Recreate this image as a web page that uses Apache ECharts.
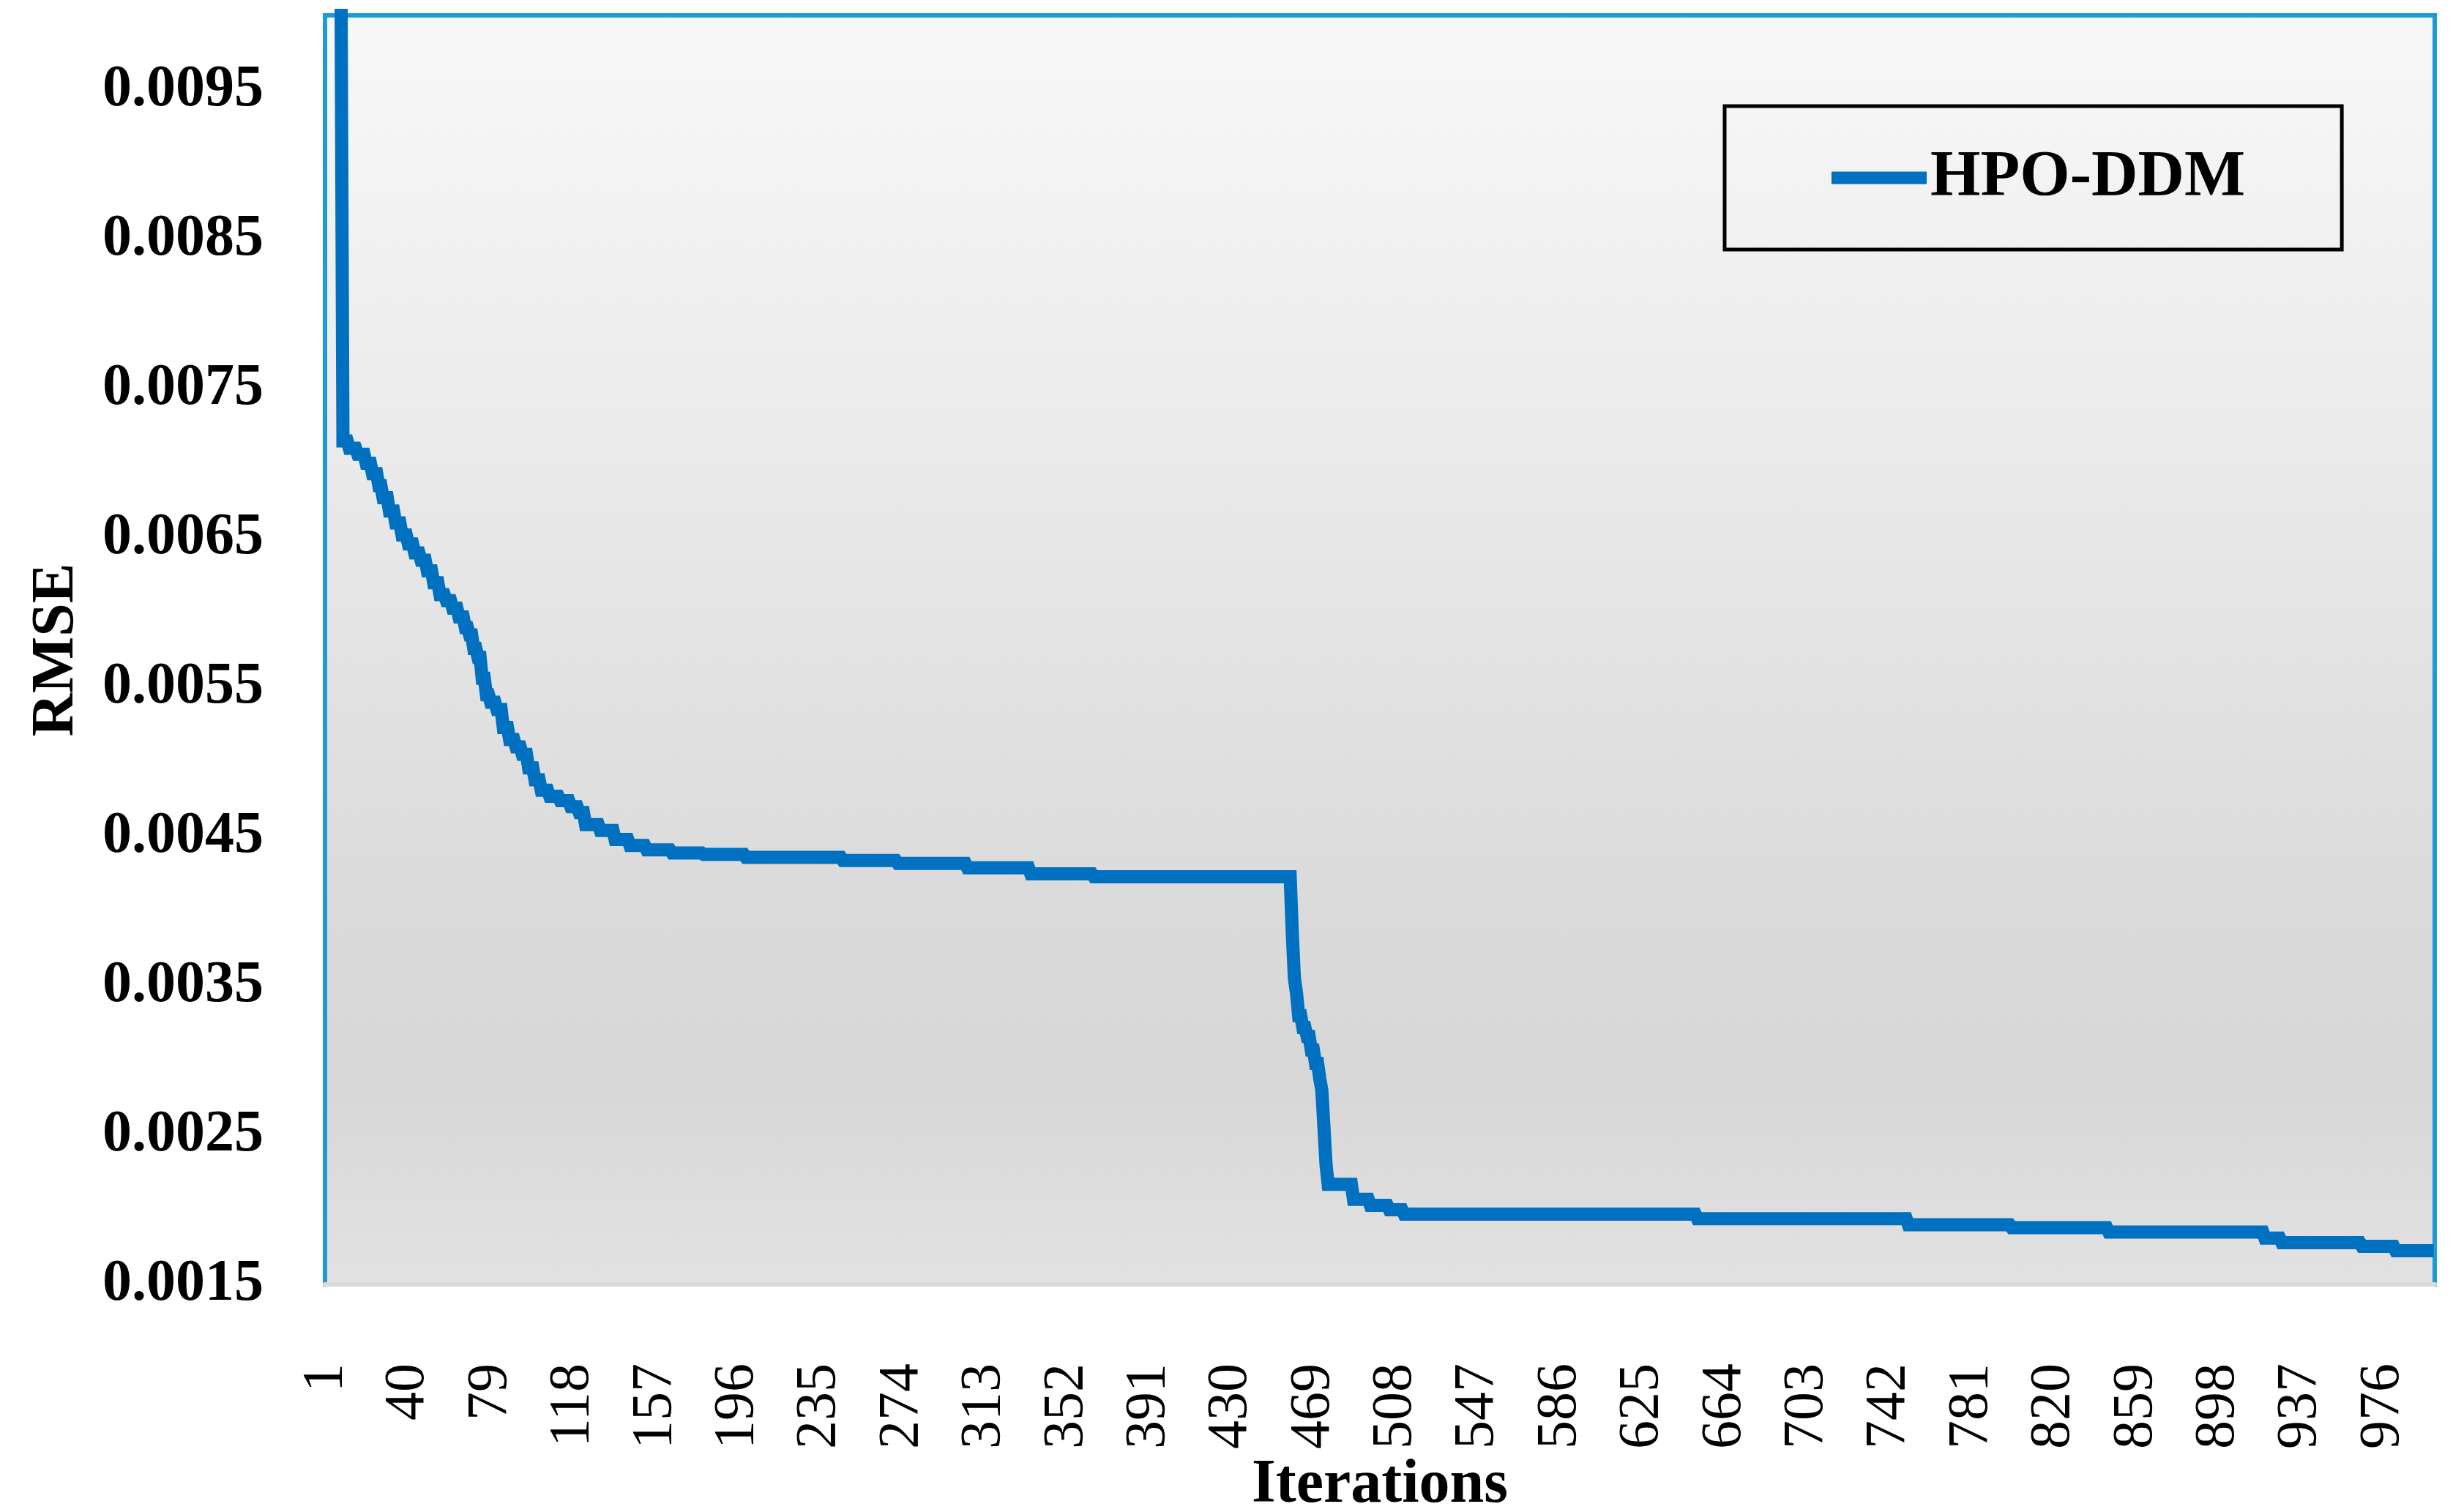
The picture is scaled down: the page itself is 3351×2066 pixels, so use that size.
<!DOCTYPE html>
<html>
<head>
<meta charset="utf-8">
<script src="https://cdn.jsdelivr.net/npm/echarts@6/dist/echarts.min.js"></script>
<style>
html,body{margin:0;padding:0;background:#fff;}
#chart{width:3351px;height:2066px;}
</style>
</head>
<body>
<div id="chart"></div>
<script>
// ---- data ----
const seriesName = 'HPO-DDM';
const iterationCount = 1000;
// RMSE is a best-so-far (step) curve: each value holds from its start iteration until the next one
const stepStartIters = [1, 4, 6, 8, 9, 12, 16, 20, 23, 26, 28, 31, 34, 37, 40, 43, 46, 49, 52, 55, 58, 61, 64, 67, 69, 71, 73, 75, 77, 79, 82, 85, 88, 91, 94, 97, 100, 103, 107, 112, 117, 121, 124, 131, 138, 145, 153, 165, 180, 200, 246, 272, 305, 335, 365, 459, 460, 461, 462, 464, 466, 468, 470, 472, 473, 474, 475, 476, 488, 496, 505, 512, 651, 751, 800, 846, 920, 928, 966, 982];
const stepValues = [0.0185, 0.0140, 0.0115, 0.0105, 0.00715, 0.00710, 0.00706, 0.00700, 0.00693, 0.00685, 0.00677, 0.00668, 0.00660, 0.00652, 0.00646, 0.00640, 0.00635, 0.00628, 0.00620, 0.00612, 0.00608, 0.00603, 0.00597, 0.00590, 0.00585, 0.00576, 0.00570, 0.00556, 0.00545, 0.00540, 0.00535, 0.00523, 0.00515, 0.00510, 0.00505, 0.00496, 0.00488, 0.00481, 0.00477, 0.00474, 0.00470, 0.00466, 0.00458, 0.00454, 0.00448, 0.00444, 0.00441, 0.00439, 0.00438, 0.00436, 0.00434, 0.00432, 0.00429, 0.00425, 0.00423, 0.00385, 0.00355, 0.00345, 0.00330, 0.00322, 0.00316, 0.00307, 0.00298, 0.00288, 0.00280, 0.00255, 0.00230, 0.00217, 0.00207, 0.00203, 0.00200, 0.00197, 0.00194, 0.00190, 0.00188, 0.00185, 0.00181, 0.00178, 0.001755, 0.001725];
const xTickLabels = ['1','40','79','118','157','196','235','274','313','352','391','430','469','508','547','586','625','664','703','742','781','820','859','898','937','976'];
const yTickLabels = ['0.0015','0.0025','0.0035','0.0045','0.0055','0.0065','0.0075','0.0085','0.0095'];
const yMin = 0.0015, yMax = 0.01, yStep = 0.001;
const xAxisTitle = 'Iterations';
const yAxisTitle = 'RMSE';

// ---- build ----
const categories = [];
const rmse = [];
let s = 0;
for (let it = 1; it <= iterationCount; it++) {
  while (s + 1 < stepStartIters.length && stepStartIters[s + 1] <= it) s++;
  categories.push(String(it));
  rmse.push(stepValues[s]);
}

const FONT = '"Liberation Serif", "Times New Roman", serif';
const chart = echarts.init(document.getElementById('chart'), null, {renderer: 'canvas'});
chart.setOption({
  backgroundColor: '#ffffff',
  animation: false,
  grid: {
    left: 444, right: 25, top: 21, bottom: 311,
    containLabel: false,
    outerBoundsMode: 'none',
    show: true,
    borderColor: '#1E9AD6',
    borderWidth: 6,
    backgroundColor: new echarts.graphic.LinearGradient(0, 0, 0, 1, [
      {offset: 0, color: '#f8f8f8'},
      {offset: 0.3, color: '#ececec'},
      {offset: 0.68, color: '#dbdbdb'},
      {offset: 0.84, color: '#d7d7d7'},
      {offset: 1, color: '#e2e2e2'}
    ])
  },
  legend: {
    data: [seriesName],
    left: 2356, top: 145,
    icon: 'rect',
    itemWidth: 130, itemHeight: 17,
    padding: [54, 132, 54, 146],
    borderColor: '#000', borderWidth: 5,
    textStyle: {fontFamily: FONT, fontSize: 88, fontWeight: 'bold', color: '#000'}
  },
  xAxis: {
    type: 'category',
    data: categories,
    boundaryGap: true,
    name: xAxisTitle,
    nameLocation: 'middle',
    nameGap: 212,
    nameTextStyle: {fontFamily: FONT, fontSize: 84, fontWeight: 'bold', color: '#000'},
    axisLine: {show: true, lineStyle: {color: '#d9d9d9', width: 6}},
    axisTick: {show: false},
    splitLine: {show: false},
    axisLabel: {
      interval: (idx, val) => xTickLabels.indexOf(val) >= 0,
      rotate: 90,
      margin: 108,
      hideOverlap: false,
      fontFamily: FONT, fontSize: 78, color: '#000'
    }
  },
  yAxis: {
    type: 'value',
    min: yMin, max: yMax, interval: yStep,
    name: yAxisTitle,
    nameLocation: 'middle',
    nameRotate: 90,
    nameGap: 325,
    nameTextStyle: {fontFamily: FONT, fontSize: 82, fontWeight: 'bold', color: '#000'},
    axisLine: {show: false},
    axisTick: {show: false},
    splitLine: {show: false},
    axisLabel: {
      margin: 84,
      showMaxLabel: false,
      hideOverlap: false,
      fontFamily: FONT, fontSize: 80, fontWeight: 'bold', color: '#000',
      formatter: v => {
        const t = v.toFixed(4);
        return yTickLabels.indexOf(t) >= 0 ? t : '';
      }
    }
  },
  series: [{
    name: seriesName,
    type: 'line',
    data: rmse,
    showSymbol: false,
    symbol: 'none',
    clip: true,
    color: '#0070C0',
    lineStyle: {color: '#0070C0', width: 18, cap: 'butt', join: 'miter'}
  }]
});
</script>
</body>
</html>
